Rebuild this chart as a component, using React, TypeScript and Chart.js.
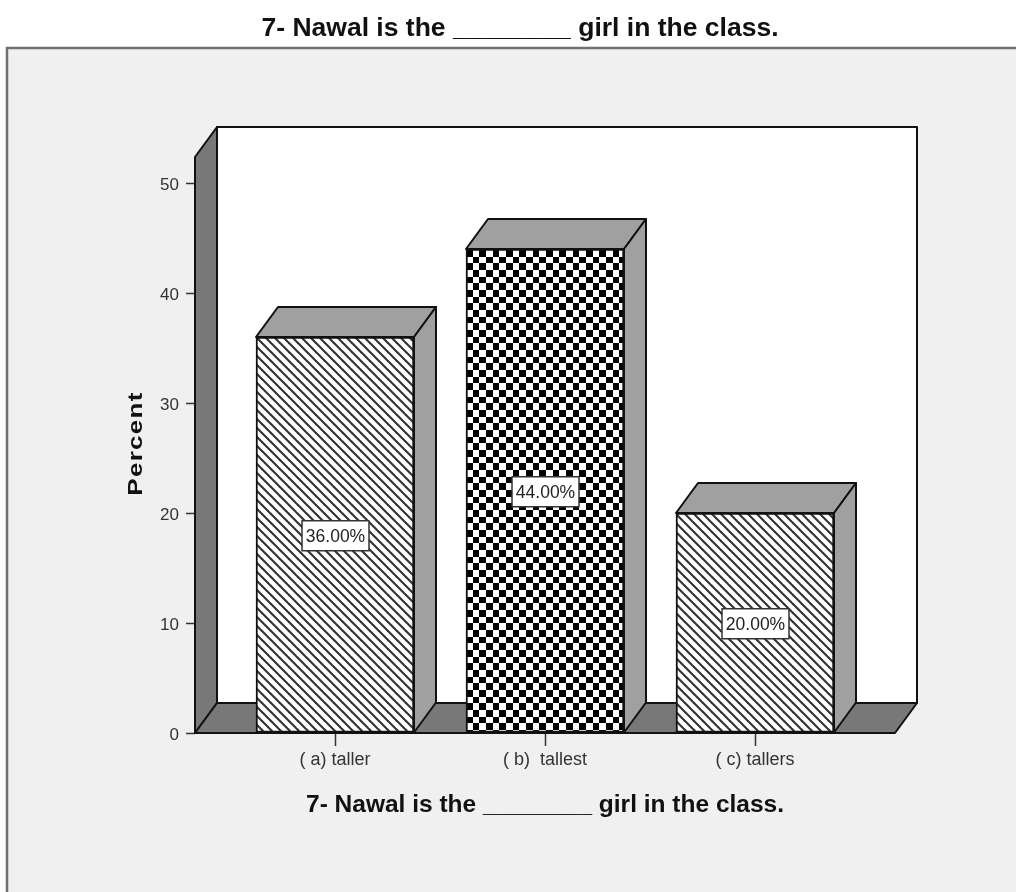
import React, { useEffect, useRef } from "react";
import { Chart, registerables } from "chart.js";

Chart.register(...registerables);

const categories = ["( a) taller", "( b)  tallest", "( c) tallers"];
const percentValues = [36, 44, 20];
const patternNames = ["stripes", "checks", "stripes"];
const yTicks = [0, 10, 20, 30, 40, 50];
const chartTitle = "7- Nawal is the ________ girl in the class.";
const yAxisTitle = "Percent";

const FONT = '"Liberation Sans", Arial, sans-serif';
const DX = 22;
const DY = 30;

function makePattern(kind: string, ctx: CanvasRenderingContext2D): CanvasPattern {
  const c = document.createElement("canvas");
  if (kind === "checks") {
    const s = 3;
    const cell = 20;
    c.width = c.height = cell * 2;
    const g = c.getContext("2d")!;
    g.fillStyle = "#fff";
    g.fillRect(0, 0, cell * 2, cell * 2);
    g.fillStyle = "#000";
    g.fillRect(0, 0, cell, cell);
    g.fillRect(cell, cell, cell, cell);
    const p = ctx.createPattern(c, "repeat")!;
    p.setTransform(new DOMMatrix().translate(466, 250).scale(1 / s, 1 / s));
    return p;
  }
  const period = 9;
  c.width = c.height = period;
  const g = c.getContext("2d")!;
  g.fillStyle = "#fff";
  g.fillRect(0, 0, period, period);
  g.strokeStyle = "#333";
  g.lineWidth = 2.1;
  for (let o = -period; o <= period; o += period) {
    g.beginPath();
    g.moveTo(o - 2, -2);
    g.lineTo(o + period + 2, period + 2);
    g.stroke();
  }
  return ctx.createPattern(c, "repeat")!;
}

function poly(ctx: CanvasRenderingContext2D, pts: number[][], fill: string) {
  ctx.beginPath();
  pts.forEach(([x, y], i) => (i ? ctx.lineTo(x, y) : ctx.moveTo(x, y)));
  ctx.closePath();
  ctx.fillStyle = fill;
  ctx.fill();
  ctx.strokeStyle = "#111";
  ctx.lineWidth = 2;
  ctx.lineJoin = "round";
  ctx.stroke();
}

const box3d = {
  id: "box3d",
  beforeDraw(chart: any) {
    const { ctx } = chart;
    ctx.save();
    ctx.fillStyle = "#f0f0f0";
    ctx.fillRect(7, 48, 1016, 892);
    ctx.strokeStyle = "#707070";
    ctx.lineWidth = 2.5;
    ctx.beginPath();
    ctx.moveTo(7, 900);
    ctx.lineTo(7, 48);
    ctx.lineTo(1020, 48);
    ctx.stroke();
    ctx.restore();
  },
  beforeDatasetsDraw(chart: any) {
    const { ctx, chartArea: a } = chart;
    ctx.save();
    poly(ctx, [[a.left + DX, a.top - DY], [a.right + DX, a.top - DY], [a.right + DX, a.bottom - DY], [a.left + DX, a.bottom - DY]], "#ffffff");
    poly(ctx, [[a.left, a.top], [a.left + DX, a.top - DY], [a.left + DX, a.bottom - DY], [a.left, a.bottom]], "#787878");
    poly(ctx, [[a.left, a.bottom], [a.left + DX, a.bottom - DY], [a.right + DX, a.bottom - DY], [a.right, a.bottom]], "#787878");
    ctx.restore();
  },
  afterDatasetsDraw(chart: any) {
    const { ctx } = chart;
    const bars = chart.getDatasetMeta(0).data;
    ctx.save();
    bars.forEach((b: any, i: number) => {
      const l = b.x - b.width / 2;
      const r = b.x + b.width / 2;
      poly(ctx, [[l, b.y], [l + DX, b.y - DY], [r + DX, b.y - DY], [r, b.y]], "#a0a0a0");
      poly(ctx, [[r, b.y], [r + DX, b.y - DY], [r + DX, b.base - DY], [r, b.base]], "#a0a0a0");
      const label = percentValues[i].toFixed(2) + "%";
      const cy = (b.y + b.base) / 2 + 1;
      ctx.fillStyle = "#fff";
      ctx.strokeStyle = "#333";
      ctx.lineWidth = 1.5;
      ctx.fillRect(b.x - 33, cy - 15, 67, 30);
      ctx.strokeRect(b.x - 33, cy - 15, 67, 30);
      ctx.fillStyle = "#222";
      ctx.font = `17.5px ${FONT}`;
      ctx.textAlign = "center";
      ctx.textBaseline = "middle";
      ctx.fillText(label, b.x + 0.5, cy + 1);
    });
    ctx.restore();
  },
  afterDraw(chart: any) {
    const { ctx } = chart;
    ctx.save();
    ctx.translate(136, 443.5);
    ctx.rotate(-Math.PI / 2);
    ctx.scale(1.3, 1);
    ctx.font = `bold 20px ${FONT}`;
    (ctx as any).letterSpacing = "1px";
    ctx.fillStyle = "#111";
    ctx.textAlign = "center";
    ctx.textBaseline = "middle";
    ctx.fillText(yAxisTitle, 0, 0);
    ctx.restore();
  },
};

export default function App() {
  const ref = useRef<HTMLCanvasElement>(null);

  useEffect(() => {
    const canvas = ref.current!;
    const ctx = canvas.getContext("2d")!;
    const chart = new Chart(canvas, {
      type: "bar",
      data: {
        datasets: [
          {
            data: categories.map((_, i) => ({ x: i, y: percentValues[i] })),
            backgroundColor: patternNames.map((n) => makePattern(n, ctx)),
            borderColor: "#111",
            borderWidth: 2,
            borderSkipped: false,
            barThickness: 158,
          },
        ],
      } as any,
      plugins: [box3d],
      options: {
        animation: false,
        responsive: false,
        devicePixelRatio: 1,
        layout: { autoPadding: false, padding: { left: 145, right: 121, top: 0, bottom: 0 } },
        plugins: {
          legend: { display: false },
          tooltip: { enabled: false },
          title: {
            display: true,
            text: chartTitle,
            color: "#111",
            font: { family: FONT, size: 26.5, weight: "bold", lineHeight: 1.2 },
            padding: { top: 12.5, bottom: 112.7 },
          },
        },
        scales: {
          x: {
            type: "linear",
            offset: false,
            min: -2 / 3,
            max: 8 / 3,
            afterBuildTicks: (s: any) => {
              s.ticks = categories.map((_, i) => ({ value: i }));
            },
            afterFit: (s: any) => {
              s.height = 159;
            },
            grid: { display: true, offset: false, drawOnChartArea: false, drawTicks: true, tickLength: 13, color: "#333", tickWidth: 1.5 },
            border: { display: false },
            ticks: {
              autoSkip: false,
              maxRotation: 0,
              padding: 3,
              color: "#333",
              font: { family: FONT, size: 18 },
              callback: (v: any) => categories[v],
            },
            title: {
              display: true,
              text: chartTitle,
              color: "#111",
              font: { family: FONT, size: 24.5, weight: "bold", lineHeight: 1.2 },
              padding: { top: 0, bottom: 72 },
            },
          },
          y: {
            min: 0,
            max: 576 / 11,
            afterBuildTicks: (s: any) => {
              s.ticks = yTicks.map((value) => ({ value }));
            },
            afterFit: (s: any) => {
              s.width = 50;
            },
            grid: { display: true, drawOnChartArea: false, drawTicks: true, tickLength: 9, color: "#333", tickWidth: 1.5 },
            border: { display: false },
            ticks: {
              padding: 7,
              labelOffset: 2,
              color: "#333",
              font: { family: FONT, size: 17 },
            },
          },
        },
      } as any,
    });
    return () => chart.destroy();
  }, []);

  return (
    <canvas
      ref={ref}
      width={1016}
      height={892}
      style={{ position: "absolute", left: 0, top: 0, display: "block" }}
    />
  );
}
